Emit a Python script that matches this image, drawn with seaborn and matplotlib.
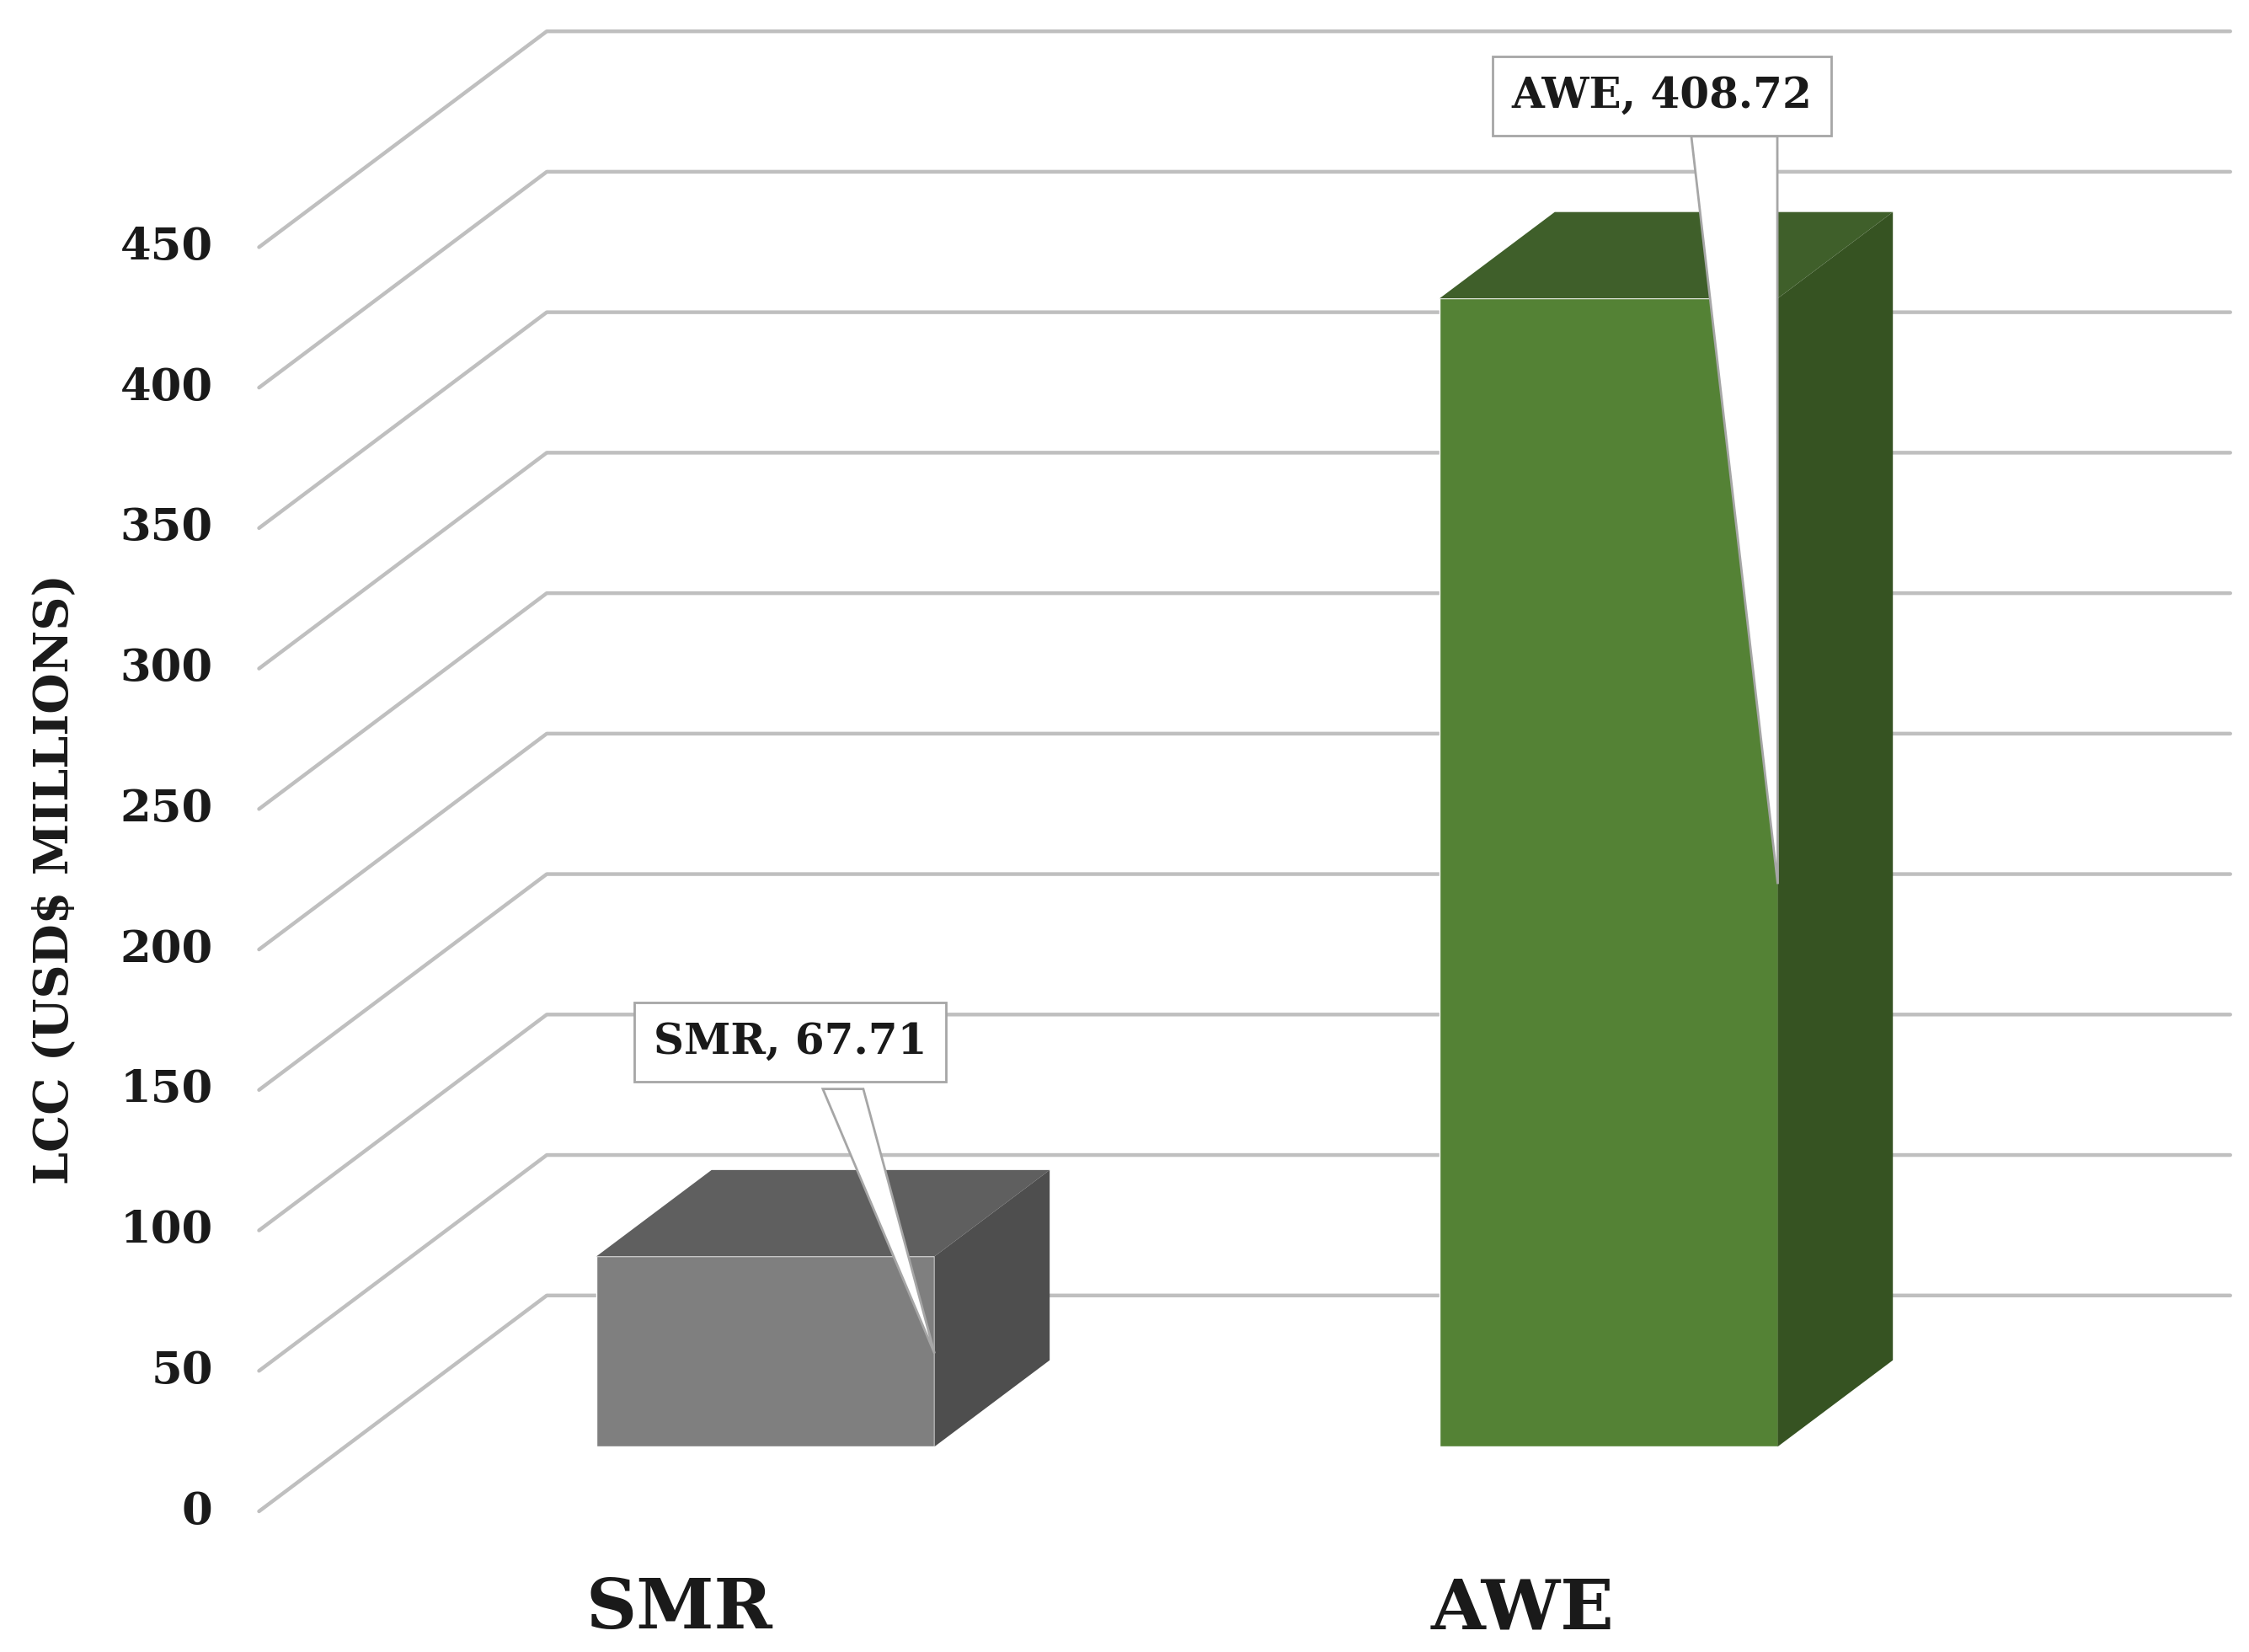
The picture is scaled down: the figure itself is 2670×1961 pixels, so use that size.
import numpy as np
import pandas as pd
import matplotlib
matplotlib.use("Agg")
import matplotlib.pyplot as plt
import matplotlib.transforms as mtransforms
from matplotlib.patches import Polygon
import seaborn as sns

categories = ["SMR", "AWE"]
values = [67.71, 408.72]
tick_values = [0, 50, 100, 150, 200, 250, 300, 350, 400, 450]
ylabel = "LCC (USD$ MILLIONS)"
front_colors = ["#7f7f7f", "#548235"]
top_colors = ["#5f5f5f", "#3f5f2a"]
side_colors = ["#4e4e4e", "#365322"]

DPI = 100
S = 2670 / 1563.0  # reference-pixel scale
sns.set_theme(style="white")
plt.rcParams['font.family'] = ['DejaVu Serif']
fig = plt.figure(figsize=(26.7, 19.61), dpi=DPI)
ax = fig.add_axes([0, 0, 1, 1])

df = pd.DataFrame({"cat": categories, "val": values})
sns.barplot(data=df, x="cat", y="val", hue="cat", palette=front_colors,
            width=0.401, ax=ax, legend=False, zorder=3, saturation=1)
ax.set_xlim(-532 / 586, (1563 - 532) / 586)
ax.set_ylim((1007 - 1150) / 1.9556, 1007 / 1.9556)
ax.axis("off")

def dtrans(d):
    dx = (d - 0.3) * 200 * S / DPI
    dy = (d - 0.3) * 150 * S / DPI
    return ax.transData + mtransforms.ScaledTranslation(dx, dy, fig.dpi_scale_trans)

# gridlines
x0 = (240 - 532) / 586
x1 = (1410 - 532) / 586
t0, t1 = dtrans(0), dtrans(1)
for v in tick_values:
    p0 = t0.transform((x0, v))
    p1 = t1.transform((x0, v))
    p2 = t1.transform((x1, v))
    ax.add_line(plt.Line2D([p0[0], p1[0], p2[0]], [p0[1], p1[1], p2[1]],
                           transform=None, color="#bfbfbf", lw=3.2, zorder=1))
    ax.text(-0.553, v, str(v), transform=t0, ha="right", va="center",
            fontsize=38, fontweight="bold", color="#1a1a1a")

# 3D faces
w = 0.401 / 2
tf, tb = dtrans(0.3), dtrans(0.7)
for i, v in enumerate(values):
    xl, xr = i - w, i + w
    top = [tf.transform((xl, v)), tf.transform((xr, v)),
           tb.transform((xr, v)), tb.transform((xl, v))]
    side = [tf.transform((xr, 0)), tf.transform((xr, v)),
            tb.transform((xr, v)), tb.transform((xr, 0))]
    ax.add_patch(Polygon(top, closed=True, transform=None, fc=top_colors[i],
                         ec="none", zorder=3))
    ax.add_patch(Polygon(side, closed=True, transform=None, fc=side_colors[i],
                         ec="none", zorder=3))

# callouts
callouts = [
    (0.029, 144, 127.3, (0.068, 0.116)),
    (1.063, 480.7, 466.4, (1.098, 1.200)),
]
for i, (cx, cy, by, (ba, bb)) in enumerate(callouts):
    tip = (i + w, values[i] * 0.49)
    ax.add_patch(Polygon([(ba, by), tip, (bb, by)], closed=True, fc="white",
                         ec="#a6a6a6", lw=2, zorder=5))
    ax.text(cx, cy, f"{categories[i]}, {values[i]:.2f}", ha="center", va="center",
            fontsize=36, fontweight="bold", color="#1a1a1a", zorder=6,
            bbox=dict(boxstyle="square,pad=0.45", fc="white", ec="#a6a6a6", lw=2))

# x labels
for i, c in enumerate(categories):
    ax.text(i, -34.8, c, transform=t0, ha="center", va="center",
            fontsize=60, fontweight="bold", color="#1a1a1a")

ax.text(38 / 1563, 1 - 612 / 1150, ylabel, transform=ax.transAxes, rotation=90,
        ha="center", va="center", fontsize=40, fontweight="bold", color="#1a1a1a")

fig.savefig("out.png", dpi=DPI)
